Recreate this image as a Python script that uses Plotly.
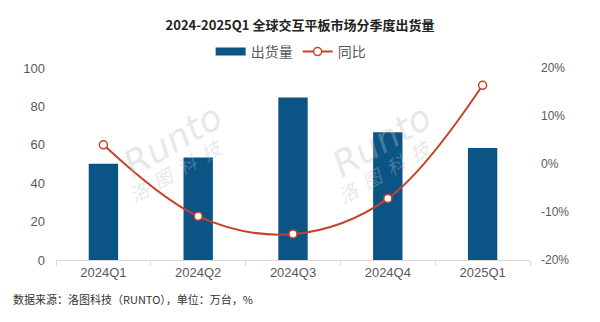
import plotly.graph_objects as go

categories = ["2024Q1", "2024Q2", "2024Q3", "2024Q4", "2025Q1"]
shipments = [50.1, 53.4, 84.6, 66.6, 58.3]
yoy = [4.0, -10.9, -14.6, -7.2, 16.4]
left_ticks = [0, 20, 40, 60, 80, 100]
right_ticks = [-20, -10, 0, 10, 20]
right_labels = [f"{v}%" for v in right_ticks]

BLUE = "#0B5586"
RED = "#C9402C"
GRAY = "#595959"
FONT = "Noto Sans CJK SC"

PH = 322 - 68 - 62  # plot height in px
PW = 600 - 55.5 - 69.5

fig = go.Figure()
fig.add_trace(go.Bar(
    x=categories, y=shipments, name="出货量",
    marker=dict(color=BLUE, line=dict(width=0)),
    width=0.31, yaxis="y", showlegend=False,
))
# legend stand-in for the bar series (wide rectangle swatch)
fig.add_trace(go.Scatter(
    x=[None], y=[None], name="出货量", mode="lines",
    line=dict(color=BLUE, width=8), yaxis="y",
))
fig.add_trace(go.Scatter(
    x=categories, y=yoy, name="同比", yaxis="y2",
    mode="lines+markers",
    line=dict(color=RED, width=2, shape="spline", smoothing=1.0),
    marker=dict(size=8, color="white", line=dict(color=RED, width=1.5)),
))

# watermarks
for wx in [(172 - 55.5) / PW, (382 - 55.5) / PW]:
    fig.add_annotation(xref="paper", yref="paper", x=wx, y=(260 - 140) / PH, text="<i>Runto</i>",
                       xanchor="center", yanchor="middle",
                       showarrow=False, textangle=-30,
                       font=dict(family="DejaVu Sans", size=36, color="rgba(190,190,190,0.35)"))
    fig.add_annotation(xref="paper", yref="paper", x=wx + 0.005, y=(260 - 170) / PH,
                       text="<i>洛&nbsp;&nbsp;图&nbsp;&nbsp;科&nbsp;&nbsp;技</i>",
                       xanchor="center", yanchor="middle",
                       showarrow=False, textangle=-30,
                       font=dict(family=FONT, size=19, color="rgba(190,190,190,0.35)"))

fig.update_layout(
    width=600, height=322,
    margin=dict(l=55.5, r=69.5, t=68, b=62, autoexpand=False),
    paper_bgcolor="white", plot_bgcolor="white",
    font=dict(family=FONT, color=GRAY, size=12),
    title=dict(text="<b>2024-2025Q1 全球交互平板市场分季度出货量</b>",
               x=0.5, xanchor="center", y=1 - 25 / 322, yanchor="middle",
               font=dict(family=FONT, size=13, color="#222222")),
    legend=dict(orientation="h", x=0.495, xanchor="center", y=(260 - 52) / PH,
                yanchor="middle", font=dict(family=FONT, size=14, color=GRAY),
                itemwidth=30, tracegroupgap=0),
    showlegend=True,
    bargap=0.69,
    xaxis=dict(showline=True, linecolor="#d9d9d9", linewidth=1,
               ticks="outside", tickson="boundaries", ticklen=5, tickcolor="#d9d9d9",
               tickfont=dict(family="Liberation Sans", size=13, color=GRAY),
               showgrid=False, fixedrange=True),
    yaxis=dict(range=[0, 100], tickvals=left_ticks, showgrid=False, zeroline=False,
               tickfont=dict(family="Liberation Sans", size=13, color=GRAY),
               ticklabelstandoff=10),
    yaxis2=dict(range=[-20, 20], tickvals=right_ticks, ticktext=right_labels,
                overlaying="y", side="right",
                showgrid=False, zeroline=False,
                tickfont=dict(family="Liberation Sans", size=12, color=GRAY),
                ticklabelstandoff=10),
)

fig.add_annotation(xref="paper", yref="paper", x=(10 - 55.5) / PW, xanchor="left",
                   y=(260 - 299) / PH, yanchor="middle", showarrow=False,
                   text="数据来源：洛图科技（RUNTO），单位：万台，%",
                   font=dict(family=FONT, size=11, color="#333333"))

fig.write_html("out.html")
